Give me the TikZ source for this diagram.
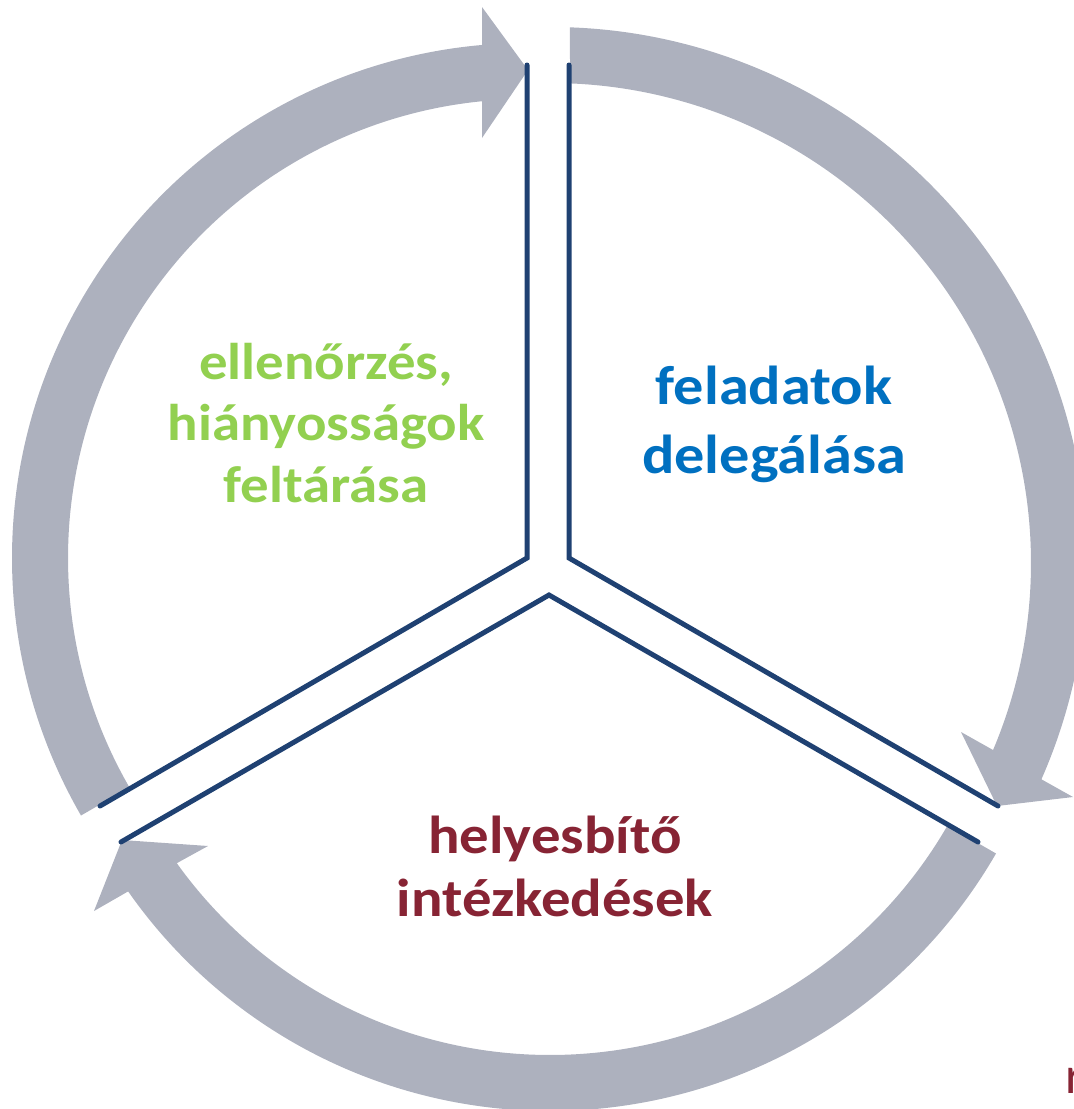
\documentclass[tikz,border=0pt]{standalone}
\usepackage{fontspec}
\setmainfont{Carlito}
\newfontfamily\stepfont{Carlito}[FakeStretch=1.1]
\usepackage{tikz}

\definecolor{arrowgray}{RGB}{173,177,190}
\definecolor{sectorblue}{RGB}{31,65,114}
\definecolor{checkgreen}{RGB}{146,208,80}
\definecolor{delegateblue}{RGB}{0,112,192}
\definecolor{correctred}{RGB}{135,36,52}

\tikzset{
    cyclearrow/.style={fill=arrowgray},
    sectorline/.style={draw=sectorblue,line width=1.42pt,line cap=round,line join=miter},
    steptext/.style={align=center}
}

\begin{document}
\begin{tikzpicture}[x=0.01cm,y=-0.01cm]
        \useasboundingbox (0,0) rectangle (1074,1109);
        \clip (0,0) rectangle (1074,1109);
        \fill[cyclearrow] ([shift={(527,558)}]150:515) arc[start angle=150,end angle=265,radius=515] -- (482,7) -- (528,70) -- (482,138) -- ([shift={(527,558)}]264.4:459) arc[start angle=264.4,end angle=150,radius=459] -- cycle;
        \fill[cyclearrow] ([shift={(551,563)}]-87.97:536) arc[start angle=-87.97,end angle=23.8,radius=536] -- (1073,797) -- (997,806) -- (961,732) -- ([shift={(551,563)}]22.93:480) arc[start angle=22.93,end angle=-87.73,radius=480] -- cycle;
        \fill[cyclearrow] ([shift={(550,596)}]30:515) arc[start angle=30,end angle=145,radius=515] -- (94,911) -- (122,840) -- (208,846) -- ([shift={(550,596)}]144.4:459) arc[start angle=144.4,end angle=30,radius=459] -- cycle;
        \draw[sectorline] (527,65) -- (527,558) -- (100,806);
        \draw[sectorline] (569,65) -- (569,558) -- (998,806);
        \draw[sectorline] (121,842) -- (549,595) -- (978,842);
        \node[steptext,text=checkgreen,font=\stepfont\bfseries\fontsize{14.7}{17.6}\selectfont] (check) at (326,423) {ellenőrzés,\\hiányosságok\\feltárása};
        \node[steptext,text=delegateblue,font=\stepfont\bfseries\fontsize{15.6}{19.6}\selectfont] (delegate) at (774,424) {feladatok\\delegálása};
        \node[steptext,text=correctred,font=\stepfont\bfseries\fontsize{15.2}{17.9}\selectfont] (correct) at (555,866) {helyesbítő\\intézkedések};
        \node[text=correctred,font=\fontsize{15}{18}\selectfont,anchor=base west,inner sep=0pt] (cut) at (1065,1093) {r};
    \end{tikzpicture}
\end{document}
